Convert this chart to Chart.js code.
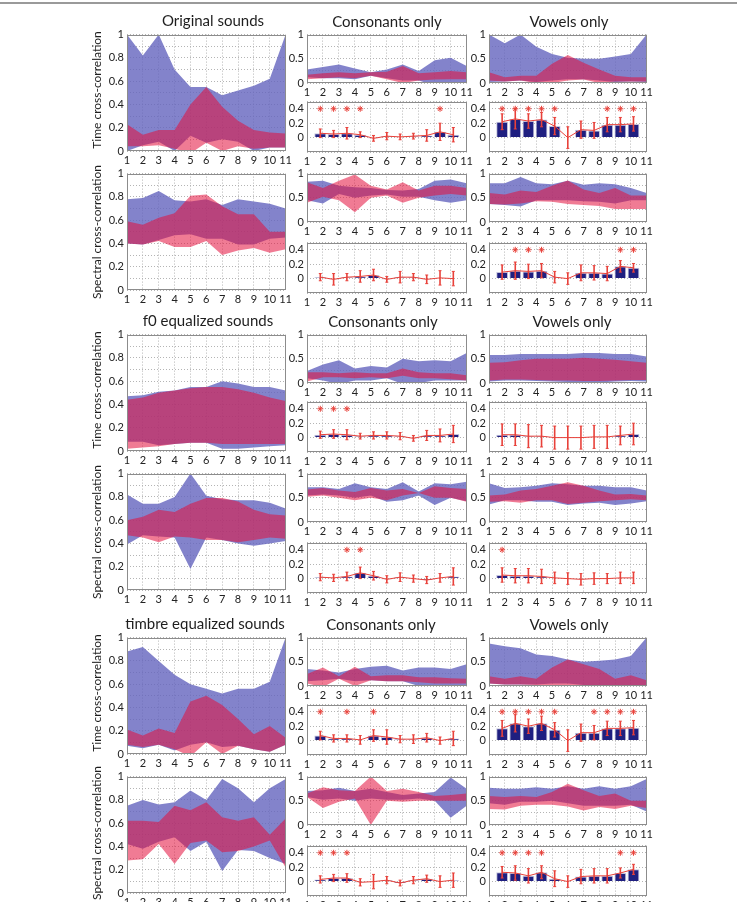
<!DOCTYPE html>
<html><head><meta charset="utf-8">
<script src="https://cdn.jsdelivr.net/npm/chart.js@4.4.1/dist/chart.umd.min.js"></script>
<style>
html,body{margin:0;padding:0;background:#fff;}
body{width:737px;height:902px;position:relative;overflow:hidden;font-family:Lato,"Open Sans",sans-serif;}
.topline{position:absolute;left:0;top:2px;width:737px;height:2px;background:#9a9a9a;}
.title{position:absolute;font-size:15px;color:#1e1e1e;white-space:nowrap;transform:translate(-50%,-50%);line-height:18px;}
.ytitle{position:absolute;width:200px;height:16px;line-height:16px;text-align:center;font-size:12px;color:#1e1e1e;transform:rotate(-90deg);white-space:nowrap;}
</style></head><body>
<div class="topline"></div>
<script>
// ---------------- DATA ----------------
const categories = [1, 2, 3, 4, 5, 6, 7, 8, 9, 10, 11];
const xTickLabels = ['1','2','3','4','5','6','7','8','9','10','11'];
const barYTicks = [-0.2, 0, 0.2, 0.4, 0.5];
const sigLevel = 0.4;

const sectionTitles = ['Original sounds', 'f0 equalized sounds', 'timbre equalized sounds'];
const columnTitles = ['Consonants only', 'Vowels only'];
const rowTitles = ['Time cross-correlation', 'Spectral cross-correlation'];

// Section 1: Original sounds (left column)
const origTimeBlueHi = [1.0, 0.82, 1.0, 0.70, 0.55, 0.55, 0.48, 0.52, 0.56, 0.62, 1.0];
const origTimeBlueLo = [0.0, 0.05, 0.08, 0.0, 0.13, 0.07, 0.10, 0.08, 0.0, 0.03, 0.03];
const origTimeRedHi  = [0.23, 0.14, 0.18, 0.18, 0.40, 0.55, 0.38, 0.26, 0.18, 0.16, 0.15];
const origTimeRedLo  = [0.04, 0.04, 0.05, 0.02, -0.02, 0.07, 0.0, 0.04, 0.02, 0.03, 0.03];
const origSpecBlueHi = [0.78, 0.79, 0.85, 0.77, 0.76, 0.78, 0.73, 0.78, 0.76, 0.74, 0.70];
const origSpecBlueLo = [0.40, 0.39, 0.43, 0.47, 0.48, 0.44, 0.44, 0.39, 0.39, 0.44, 0.45];
const origSpecRedHi  = [0.59, 0.56, 0.62, 0.66, 0.81, 0.82, 0.72, 0.65, 0.65, 0.50, 0.50];
const origSpecRedLo  = [0.40, 0.39, 0.42, 0.37, 0.37, 0.42, 0.30, 0.34, 0.36, 0.32, 0.35];
// Original – consonants only
const consOrigTimeBlueHi = [0.28, 0.33, 0.38, 0.30, 0.22, 0.28, 0.38, 0.25, 0.47, 0.52, 0.35];
const consOrigTimeBlueLo = [0.12, 0.10, 0.10, 0.08, 0.15, 0.10, 0.05, 0.05, -0.05, -0.02, 0.0];
const consOrigTimeRedHi  = [0.17, 0.20, 0.22, 0.20, 0.22, 0.23, 0.35, 0.20, 0.22, 0.25, 0.22];
const consOrigTimeRedLo  = [0.08, 0.10, 0.12, 0.10, 0.15, 0.08, 0.0, 0.05, 0.07, 0.08, 0.08];
const consOrigTimeMean = [0.06, 0.05, 0.06, 0.04, -0.01, 0.02, 0.01, 0.02, 0.03, 0.08, 0.04];
const consOrigTimeErr  = [0.06, 0.05, 0.08, 0.04, 0.04, 0.05, 0.04, 0.04, 0.08, 0.12, 0.10];
const consOrigTimeSig  = [1, 1, 1, 1, 0, 0, 0, 0, 0, 1, 0];
const consOrigSpecBlueHi = [0.83, 0.85, 0.75, 0.72, 0.70, 0.66, 0.65, 0.68, 0.85, 0.88, 0.80];
const consOrigSpecBlueLo = [0.45, 0.38, 0.58, 0.50, 0.55, 0.57, 0.52, 0.52, 0.45, 0.40, 0.45];
const consOrigSpecRedHi  = [0.82, 0.70, 0.85, 0.98, 0.75, 0.67, 0.82, 0.65, 0.75, 0.75, 0.70];
const consOrigSpecRedLo  = [0.40, 0.52, 0.45, 0.20, 0.50, 0.55, 0.40, 0.50, 0.55, 0.58, 0.55];
const consOrigSpecMean = [0.02, -0.01, 0.02, 0.03, 0.05, -0.01, 0.02, 0.02, -0.01, 0.01, 0.0];
const consOrigSpecErr  = [0.05, 0.08, 0.05, 0.08, 0.08, 0.04, 0.08, 0.05, 0.06, 0.10, 0.10];
const consOrigSpecSig  = [0, 0, 0, 0, 0, 0, 0, 0, 0, 0, 0];
// Original – vowels only
const vowOrigTimeBlueHi = [1.0, 0.82, 1.0, 0.75, 0.60, 0.52, 0.50, 0.50, 0.55, 0.60, 1.0];
const vowOrigTimeBlueLo = [0.02, 0.03, 0.05, 0.02, 0.05, 0.08, 0.08, 0.05, 0.02, 0.03, 0.02];
const vowOrigTimeRedHi  = [0.22, 0.12, 0.15, 0.15, 0.40, 0.58, 0.42, 0.28, 0.15, 0.12, 0.12];
const vowOrigTimeRedLo  = [0.05, 0.03, 0.05, 0.0, 0.0, 0.05, 0.07, 0.0, 0.03, 0.03, 0.03];
const vowOrigTimeMean = [0.22, 0.26, 0.23, 0.25, 0.16, 0.0, 0.11, 0.10, 0.18, 0.18, 0.19];
const vowOrigTimeErr  = [0.11, 0.14, 0.10, 0.10, 0.12, 0.15, 0.12, 0.11, 0.10, 0.10, 0.10];
const vowOrigTimeSig  = [1, 1, 1, 1, 1, 0, 0, 0, 1, 1, 1];
const vowOrigSpecBlueHi = [0.80, 0.80, 0.93, 0.80, 0.78, 0.85, 0.77, 0.80, 0.78, 0.70, 0.60];
const vowOrigSpecBlueLo = [0.37, 0.35, 0.32, 0.45, 0.45, 0.45, 0.43, 0.42, 0.38, 0.45, 0.45];
const vowOrigSpecRedHi  = [0.60, 0.57, 0.65, 0.62, 0.75, 0.86, 0.67, 0.60, 0.70, 0.55, 0.55];
const vowOrigSpecRedLo  = [0.37, 0.36, 0.38, 0.43, 0.42, 0.37, 0.35, 0.33, 0.27, 0.27, 0.27];
const vowOrigSpecMean = [0.09, 0.11, 0.10, 0.11, 0.02, 0.0, 0.08, 0.08, 0.07, 0.17, 0.15];
const vowOrigSpecErr  = [0.10, 0.12, 0.10, 0.10, 0.08, 0.08, 0.11, 0.10, 0.10, 0.08, 0.06];
const vowOrigSpecSig  = [0, 1, 1, 1, 0, 0, 0, 0, 0, 1, 1];

// Section 2: f0 equalized sounds
const f0TimeBlueHi = [0.47, 0.48, 0.51, 0.52, 0.55, 0.55, 0.60, 0.58, 0.55, 0.55, 0.52];
const f0TimeBlueLo = [0.08, 0.08, 0.05, 0.06, 0.07, 0.07, 0.02, 0.02, 0.03, 0.04, 0.05];
const f0TimeRedHi  = [0.44, 0.46, 0.50, 0.52, 0.54, 0.55, 0.55, 0.53, 0.50, 0.46, 0.43];
const f0TimeRedLo  = [0.02, 0.03, 0.04, 0.06, 0.07, 0.07, 0.06, 0.06, 0.06, 0.06, 0.06];
const f0SpecBlueHi = [0.82, 0.74, 0.74, 0.80, 1.0, 0.81, 0.78, 0.77, 0.77, 0.75, 0.70];
const f0SpecBlueLo = [0.39, 0.47, 0.46, 0.45, 0.18, 0.45, 0.43, 0.40, 0.38, 0.40, 0.42];
const f0SpecRedHi  = [0.60, 0.63, 0.69, 0.67, 0.74, 0.79, 0.79, 0.76, 0.69, 0.65, 0.64];
const f0SpecRedLo  = [0.47, 0.45, 0.41, 0.46, 0.45, 0.43, 0.43, 0.41, 0.43, 0.45, 0.44];
const consF0TimeBlueHi = [0.25, 0.38, 0.47, 0.30, 0.35, 0.32, 0.50, 0.45, 0.47, 0.45, 0.62];
const consF0TimeBlueLo = [0.10, 0.05, -0.02, 0.05, 0.05, 0.10, -0.02, 0.0, 0.05, 0.05, 0.05];
const consF0TimeRedHi  = [0.22, 0.22, 0.20, 0.22, 0.20, 0.20, 0.30, 0.22, 0.20, 0.20, 0.16];
const consF0TimeRedLo  = [0.03, 0.12, 0.12, 0.10, 0.12, 0.10, 0.15, 0.10, 0.10, 0.08, 0.05];
const consF0TimeMean = [0.04, 0.05, 0.04, 0.02, 0.03, 0.03, 0.02, -0.01, 0.03, 0.03, 0.05];
const consF0TimeErr  = [0.05, 0.06, 0.07, 0.04, 0.05, 0.05, 0.05, 0.04, 0.07, 0.09, 0.12];
const consF0TimeSig  = [1, 1, 1, 0, 0, 0, 0, 0, 0, 0, 0];
const consF0SpecBlueHi = [0.72, 0.72, 0.68, 0.80, 0.72, 0.68, 0.82, 0.63, 0.80, 0.78, 0.83];
const consF0SpecBlueLo = [0.55, 0.57, 0.55, 0.50, 0.55, 0.42, 0.45, 0.55, 0.35, 0.50, 0.43];
const consF0SpecRedHi  = [0.67, 0.70, 0.65, 0.62, 0.70, 0.65, 0.68, 0.60, 0.74, 0.70, 0.68];
const consF0SpecRedLo  = [0.52, 0.55, 0.50, 0.45, 0.50, 0.45, 0.55, 0.60, 0.50, 0.50, 0.42];
const consF0SpecMean = [0.02, 0.01, 0.03, 0.08, 0.04, -0.01, 0.02, 0.0, -0.02, 0.01, 0.03];
const consF0SpecErr  = [0.05, 0.05, 0.06, 0.08, 0.06, 0.05, 0.06, 0.05, 0.05, 0.06, 0.12];
const consF0SpecSig  = [0, 0, 1, 1, 0, 0, 0, 0, 0, 0, 0];
const vowF0TimeBlueHi = [0.58, 0.58, 0.60, 0.60, 0.60, 0.60, 0.62, 0.62, 0.60, 0.60, 0.55];
const vowF0TimeBlueLo = [0.03, 0.05, 0.05, 0.04, 0.03, 0.02, 0.02, 0.01, 0.03, 0.04, 0.03];
const vowF0TimeRedHi  = [0.42, 0.43, 0.47, 0.50, 0.50, 0.50, 0.52, 0.50, 0.48, 0.45, 0.42];
const vowF0TimeRedLo  = [0.05, 0.07, 0.07, 0.06, 0.05, 0.05, 0.04, 0.04, 0.05, 0.06, 0.06];
const vowF0TimeMean = [0.04, 0.04, 0.02, 0.02, 0.0, 0.0, 0.0, 0.01, 0.01, 0.03, 0.05];
const vowF0TimeErr  = [0.15, 0.15, 0.16, 0.15, 0.16, 0.16, 0.16, 0.16, 0.16, 0.13, 0.15];
const vowF0TimeSig  = [0, 0, 0, 0, 0, 0, 0, 0, 0, 0, 0];
const vowF0SpecBlueHi = [0.80, 0.70, 0.72, 0.75, 0.80, 0.78, 0.75, 0.75, 0.72, 0.72, 0.65];
const vowF0SpecBlueLo = [0.36, 0.45, 0.45, 0.42, 0.42, 0.35, 0.38, 0.40, 0.35, 0.38, 0.43];
const vowF0SpecRedHi  = [0.55, 0.57, 0.65, 0.68, 0.75, 0.82, 0.75, 0.65, 0.57, 0.58, 0.55];
const vowF0SpecRedLo  = [0.42, 0.43, 0.40, 0.45, 0.45, 0.37, 0.40, 0.43, 0.45, 0.47, 0.45];
const vowF0SpecMean = [0.05, 0.04, 0.04, 0.03, 0.01, 0.0, -0.01, 0.0, 0.0, 0.01, 0.01];
const vowF0SpecErr  = [0.10, 0.10, 0.10, 0.10, 0.08, 0.08, 0.08, 0.08, 0.07, 0.08, 0.08];
const vowF0SpecSig  = [1, 0, 0, 0, 0, 0, 0, 0, 0, 0, 0];

// Section 3: timbre equalized sounds
const timTimeBlueHi = [0.88, 0.92, 0.80, 0.68, 0.60, 0.56, 0.52, 0.56, 0.56, 0.62, 1.0];
const timTimeBlueLo = [0.07, 0.05, 0.08, 0.03, 0.08, 0.10, 0.06, 0.07, 0.04, 0.02, 0.08];
const timTimeRedHi  = [0.21, 0.16, 0.22, 0.18, 0.45, 0.50, 0.42, 0.30, 0.17, 0.24, 0.14];
const timTimeRedLo  = [0.08, 0.06, 0.08, 0.04, -0.02, 0.10, 0.0, 0.07, 0.04, 0.02, 0.08];
const timSpecBlueHi = [0.75, 0.80, 0.76, 0.78, 0.88, 0.80, 0.98, 0.90, 0.78, 0.90, 0.98];
const timSpecBlueLo = [0.42, 0.38, 0.44, 0.48, 0.36, 0.44, 0.19, 0.37, 0.36, 0.30, 0.25];
const timSpecRedHi  = [0.62, 0.62, 0.61, 0.75, 0.71, 0.78, 0.65, 0.62, 0.65, 0.50, 0.64];
const timSpecRedLo  = [0.28, 0.29, 0.42, 0.25, 0.43, 0.45, 0.35, 0.36, 0.40, 0.45, 0.22];
const consTimTimeBlueHi = [0.35, 0.32, 0.28, 0.35, 0.40, 0.42, 0.32, 0.38, 0.38, 0.35, 0.45];
const consTimTimeBlueLo = [0.10, 0.12, 0.15, 0.10, 0.12, 0.10, 0.10, 0.0, -0.02, 0.0, 0.02];
const consTimTimeRedHi  = [0.25, 0.38, 0.20, 0.40, 0.20, 0.22, 0.22, 0.18, 0.18, 0.16, 0.15];
const consTimTimeRedLo  = [0.05, -0.02, 0.15, 0.0, 0.12, 0.10, 0.10, 0.08, 0.05, 0.05, 0.05];
const consTimTimeMean = [0.07, 0.03, 0.03, 0.01, 0.07, 0.05, 0.02, 0.02, 0.04, 0.0, 0.03];
const consTimTimeErr  = [0.06, 0.05, 0.05, 0.06, 0.08, 0.10, 0.05, 0.06, 0.06, 0.05, 0.10];
const consTimTimeSig  = [1, 0, 1, 0, 1, 0, 0, 0, 0, 0, 0];
const consTimSpecBlueHi = [0.70, 0.72, 0.77, 0.70, 0.75, 0.68, 0.62, 0.65, 0.68, 0.98, 0.75];
const consTimSpecBlueLo = [0.58, 0.52, 0.55, 0.50, 0.55, 0.52, 0.52, 0.55, 0.50, 0.15, 0.40];
const consTimSpecRedHi  = [0.65, 0.78, 0.72, 0.70, 1.0, 0.70, 0.75, 0.68, 0.60, 0.62, 0.65];
const consTimSpecRedLo  = [0.58, 0.35, 0.48, 0.55, 0.0, 0.50, 0.48, 0.50, 0.50, 0.50, 0.50];
const consTimSpecMean = [0.03, 0.05, 0.05, -0.01, 0.0, 0.02, -0.02, 0.02, 0.04, 0.0, 0.02];
const consTimSpecErr  = [0.05, 0.05, 0.06, 0.05, 0.10, 0.05, 0.04, 0.05, 0.05, 0.08, 0.10];
const consTimSpecSig  = [1, 1, 1, 0, 0, 0, 0, 0, 0, 0, 0];
const vowTimTimeBlueHi = [0.88, 0.82, 0.78, 0.65, 0.62, 0.55, 0.50, 0.52, 0.55, 0.62, 1.0];
const vowTimTimeBlueLo = [0.05, 0.03, 0.03, 0.03, 0.05, 0.05, 0.02, 0.02, 0.02, 0.02, 0.02];
const vowTimTimeRedHi  = [0.20, 0.15, 0.20, 0.15, 0.38, 0.55, 0.45, 0.35, 0.15, 0.22, 0.12];
const vowTimTimeRedLo  = [0.05, 0.03, 0.03, 0.02, 0.0, 0.02, 0.0, 0.0, 0.02, 0.02, 0.02];
const vowTimTimeMean = [0.17, 0.24, 0.20, 0.24, 0.15, 0.0, 0.11, 0.11, 0.17, 0.17, 0.18];
const vowTimTimeErr  = [0.11, 0.12, 0.10, 0.10, 0.10, 0.15, 0.12, 0.10, 0.10, 0.10, 0.10];
const vowTimTimeSig  = [1, 1, 1, 1, 1, 0, 0, 1, 1, 1, 1];
const vowTimSpecBlueHi = [0.77, 0.75, 0.75, 0.78, 0.75, 0.80, 0.75, 0.80, 0.75, 0.80, 0.95];
const vowTimSpecBlueLo = [0.45, 0.42, 0.48, 0.48, 0.50, 0.45, 0.40, 0.40, 0.40, 0.42, 0.28];
const vowTimSpecRedHi  = [0.60, 0.58, 0.60, 0.58, 0.68, 0.85, 0.72, 0.60, 0.65, 0.50, 0.50];
const vowTimSpecRedLo  = [0.33, 0.32, 0.40, 0.42, 0.42, 0.38, 0.30, 0.37, 0.33, 0.40, 0.35];
const vowTimSpecMean = [0.13, 0.12, 0.08, 0.13, 0.04, 0.0, 0.07, 0.08, 0.08, 0.12, 0.17];
const vowTimSpecErr  = [0.08, 0.10, 0.10, 0.09, 0.11, 0.08, 0.10, 0.10, 0.10, 0.07, 0.07];
const vowTimSpecSig  = [1, 1, 1, 1, 0, 0, 0, 0, 0, 1, 1];

// ---------------- STYLE / LAYOUT ----------------
const BLUE_FILL = 'rgba(100,100,190,0.8)';
const RED_FILL = 'rgba(228,15,60,0.55)';
const NAVY = '#1f1f80';
const RED = '#e8413a';
const GRID = '#b4b4b4';
const TICK = '#222';
const PAD = { l: 24, r: 9, t: 8, b: 16 };
const SECTION_TOP = [0, 300, 603];
const COL = { left: { x: 127, w: 159 }, mid: { x: 307, w: 160 }, right: { x: 489, w: 158 } };

Chart.defaults.font.family = 'Lato, "Open Sans", sans-serif';
Chart.defaults.animation = false;
Chart.defaults.plugins.legend.display = false;
Chart.defaults.plugins.tooltip.enabled = false;

const framePlugin = {
  id: 'frame',
  afterDraw(chart) {
    const { ctx, chartArea: a } = chart;
    ctx.save();
    ctx.strokeStyle = '#8c8c8c';
    ctx.lineWidth = 1;
    const l = Math.round(a.left) + 0.5, t = Math.round(a.top) + 0.5;
    const r = Math.round(a.right) - 0.5, b = Math.round(a.bottom) - 0.5;
    ctx.strokeRect(l, t, r - l, b - t);
    ctx.restore();
  }
};
const errorBarPlugin = {
  id: 'errbars',
  afterDatasetsDraw(chart) {
    const ds = chart.data.datasets.find(d => d.errors);
    if (!ds) return;
    const xs = chart.scales.xb, ys = chart.scales.y, ctx = chart.ctx;
    const a = chart.chartArea;
    ctx.save();
    ctx.beginPath(); ctx.rect(a.left, a.top, a.right - a.left, a.bottom - a.top); ctx.clip();
    ctx.strokeStyle = RED;
    ds.data.forEach((p, i) => {
      const x = xs.getPixelForValue(p.x);
      const y1 = ys.getPixelForValue(p.y - ds.errors[i]);
      const y2 = ys.getPixelForValue(p.y + ds.errors[i]);
      ctx.lineWidth = 1.6;
      ctx.beginPath(); ctx.moveTo(x, y1); ctx.lineTo(x, y2); ctx.stroke();
      ctx.lineWidth = 1;
      ctx.beginPath(); ctx.moveTo(x - 1.5, y1); ctx.lineTo(x + 1.5, y1); ctx.moveTo(x - 1.5, y2); ctx.lineTo(x + 1.5, y2); ctx.stroke();
    });
    ctx.restore();
  }
};

function makeCanvas(x, y, w, h) {
  const c = document.createElement('canvas');
  const cw = w + PAD.l + PAD.r, ch = h + PAD.t + PAD.b;
  c.width = cw; c.height = ch;
  c.style.cssText = `position:absolute;left:${x - PAD.l}px;top:${y - PAD.t}px;width:${cw}px;height:${ch}px;`;
  document.body.appendChild(c);
  return c;
}
function fmt(v) { return String(Math.round(v * 10) / 10); }
function yAxis(min, max, step, showLabel, tickList) {
  const ax = {
    type: 'linear', min, max,
    ticks: { stepSize: step, autoSkip: false, color: TICK, font: { size: 11 }, padding: 3,
      callback: v => showLabel(v) ? fmt(v) : '' },
    grid: { color: GRID, lineWidth: 1, drawTicks: false },
    border: { display: false, dash: [1, 2] },
    afterFit: s => { s.width = PAD.l; }
  };
  if (tickList) ax.afterBuildTicks = s => { s.ticks = tickList.map(v => ({ value: v })); };
  return ax;
}
function xAxis() {
  return {
    type: 'linear', min: 1, max: 11, offset: false,
    ticks: { stepSize: 1, autoSkip: false, maxRotation: 0, minRotation: 0, color: TICK, font: { size: 11 }, padding: 3,
      callback: v => xTickLabels[Math.round(v) - 1] },
    grid: { color: GRID, lineWidth: 1, drawTicks: false, offset: false },
    border: { display: false, dash: [1, 2] },
    afterFit: s => { s.height = PAD.b; }
  };
}
const pts = arr => arr.map((v, i) => ({ x: categories[i], y: v }));
const edge = { borderColor: 'transparent', borderWidth: 0, pointRadius: 0, tension: 0 };

function bandChart(x, y, w, h, yOpts, blueHi, blueLo, redHi, redLo) {
  new Chart(makeCanvas(x, y, w, h), {
    type: 'line',
    data: { datasets: [
      Object.assign({ data: pts(redHi), fill: '+1', backgroundColor: RED_FILL }, edge),
      Object.assign({ data: pts(redLo), fill: false }, edge),
      Object.assign({ data: pts(blueHi), fill: '+1', backgroundColor: BLUE_FILL }, edge),
      Object.assign({ data: pts(blueLo), fill: false }, edge)
    ] },
    options: {
      responsive: false, devicePixelRatio: 1, events: [],
      layout: { padding: { top: PAD.t, right: PAD.r, left: 0, bottom: 0 } },
      scales: { x: xAxis(), y: yOpts }
    },
    plugins: [framePlugin]
  });
}
function barChart(x, y, w, h, mean, err, sig) {
  const stars = categories.filter((c, i) => sig[i]).map(c => ({ x: c, y: sigLevel }));
  new Chart(makeCanvas(x, y, w, h), {
    type: 'bar',
    data: { datasets: [
      { type: 'line', data: pts(mean), xAxisID: 'xb', borderColor: RED, borderWidth: 1, pointRadius: 0, tension: 0, order: 0 },
      { type: 'scatter', data: stars, xAxisID: 'xb', pointStyle: 'star', pointRadius: 3, borderColor: RED, borderWidth: 1, backgroundColor: 'transparent', order: 1 },
      { type: 'bar', data: pts(mean), errors: err, xAxisID: 'xb', backgroundColor: NAVY, borderColor: '#c4c4dc', borderWidth: 1, barPercentage: 0.9, categoryPercentage: 1, order: 2 }
    ] },
    options: {
      responsive: false, devicePixelRatio: 1, events: [],
      layout: { padding: { top: PAD.t, right: PAD.r, left: 0, bottom: 0 } },
      scales: {
        x: xAxis(),
        xb: { type: 'linear', min: 0, max: 12, display: false, offset: false, grid: { offset: false } },
        y: yAxis(-0.2, 0.5, 0.2, v => { const k = Math.round(v * 10); return k >= 0 && k <= 4 && k % 2 === 0; }, barYTicks)
      }
    },
    plugins: [framePlugin, errorBarPlugin]
  });
}
const yLeft = () => yAxis(0, 1, 0.1, v => Math.round(v * 10) % 2 === 0);
const yBand = () => yAxis(0, 1, 0.25, v => Math.round(v * 4) % 2 === 0);

function addText(cls, text, x, y) {
  const d = document.createElement('div');
  d.className = cls; d.textContent = text;
  if (cls === 'ytitle') { d.style.left = (x - 100) + 'px'; d.style.top = (y - 8) + 'px'; }
  else { d.style.left = x + 'px'; d.style.top = y + 'px'; }
  document.body.appendChild(d);
}

const sections = [
  { left: [origTimeBlueHi, origTimeBlueLo, origTimeRedHi, origTimeRedLo, origSpecBlueHi, origSpecBlueLo, origSpecRedHi, origSpecRedLo],
    cons: [consOrigTimeBlueHi, consOrigTimeBlueLo, consOrigTimeRedHi, consOrigTimeRedLo, consOrigTimeMean, consOrigTimeErr, consOrigTimeSig,
           consOrigSpecBlueHi, consOrigSpecBlueLo, consOrigSpecRedHi, consOrigSpecRedLo, consOrigSpecMean, consOrigSpecErr, consOrigSpecSig],
    vow: [vowOrigTimeBlueHi, vowOrigTimeBlueLo, vowOrigTimeRedHi, vowOrigTimeRedLo, vowOrigTimeMean, vowOrigTimeErr, vowOrigTimeSig,
          vowOrigSpecBlueHi, vowOrigSpecBlueLo, vowOrigSpecRedHi, vowOrigSpecRedLo, vowOrigSpecMean, vowOrigSpecErr, vowOrigSpecSig],
    titleX: [213, 387, 569], specTitleY: 232 },
  { left: [f0TimeBlueHi, f0TimeBlueLo, f0TimeRedHi, f0TimeRedLo, f0SpecBlueHi, f0SpecBlueLo, f0SpecRedHi, f0SpecRedLo],
    cons: [consF0TimeBlueHi, consF0TimeBlueLo, consF0TimeRedHi, consF0TimeRedLo, consF0TimeMean, consF0TimeErr, consF0TimeSig,
           consF0SpecBlueHi, consF0SpecBlueLo, consF0SpecRedHi, consF0SpecRedLo, consF0SpecMean, consF0SpecErr, consF0SpecSig],
    vow: [vowF0TimeBlueHi, vowF0TimeBlueLo, vowF0TimeRedHi, vowF0TimeRedLo, vowF0TimeMean, vowF0TimeErr, vowF0TimeSig,
          vowF0SpecBlueHi, vowF0SpecBlueLo, vowF0SpecRedHi, vowF0SpecRedLo, vowF0SpecMean, vowF0SpecErr, vowF0SpecSig],
    titleX: [208, 383, 572], specTitleY: 232 },
  { left: [timTimeBlueHi, timTimeBlueLo, timTimeRedHi, timTimeRedLo, timSpecBlueHi, timSpecBlueLo, timSpecRedHi, timSpecRedLo],
    cons: [consTimTimeBlueHi, consTimTimeBlueLo, consTimTimeRedHi, consTimTimeRedLo, consTimTimeMean, consTimTimeErr, consTimTimeSig,
           consTimSpecBlueHi, consTimSpecBlueLo, consTimSpecRedHi, consTimSpecRedLo, consTimSpecMean, consTimSpecErr, consTimSpecSig],
    vow: [vowTimTimeBlueHi, vowTimTimeBlueLo, vowTimTimeRedHi, vowTimTimeRedLo, vowTimTimeMean, vowTimTimeErr, vowTimTimeSig,
          vowTimSpecBlueHi, vowTimSpecBlueLo, vowTimSpecRedHi, vowTimSpecRedLo, vowTimSpecMean, vowTimSpecErr, vowTimSpecSig],
    titleX: [205, 381, 569], specTitleY: 230 }
];

sections.forEach((s, k) => {
  const o = SECTION_TOP[k];
  const L = s.left;
  bandChart(COL.left.x, 33 + o, COL.left.w, 118, yLeft(), L[0], L[1], L[2], L[3]);
  bandChart(COL.left.x, 172 + o, COL.left.w, 118, yLeft(), L[4], L[5], L[6], L[7]);
  [[s.cons, COL.mid], [s.vow, COL.right]].forEach(([d, c]) => {
    bandChart(c.x, 33 + o, c.w, 50, yBand(), d[0], d[1], d[2], d[3]);
    barChart(c.x, 100 + o, c.w, 52, d[4], d[5], d[6]);
    bandChart(c.x, 172 + o, c.w, 50, yBand(), d[7], d[8], d[9], d[10]);
    barChart(c.x, 241 + o, c.w, 52, d[11], d[12], d[13]);
  });
  addText('title', sectionTitles[k], s.titleX[0], 20 + o);
  addText('title', columnTitles[0], s.titleX[1], 21 + o);
  addText('title', columnTitles[1], s.titleX[2], 21 + o);
  addText('ytitle', rowTitles[0], 97, 90 + o);
  addText('ytitle', rowTitles[1], 97, s.specTitleY + o);
});
</script>
</body></html>
